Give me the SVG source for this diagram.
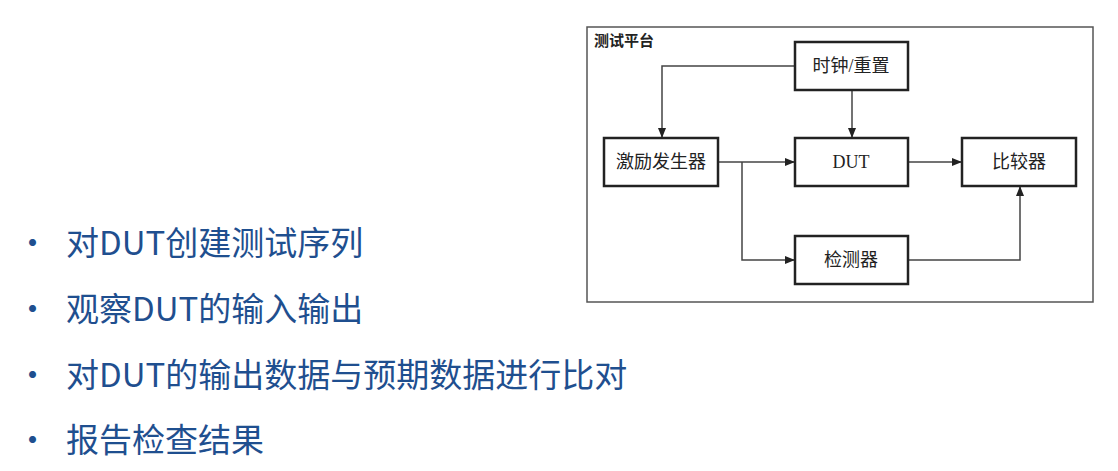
<svg xmlns="http://www.w3.org/2000/svg" width="1118" height="471" viewBox="0 0 1118 471">
<style>
.box{fill:#fff;stroke:#222;stroke-width:2.5}
.lbl{font-family:"Liberation Serif","Noto Sans CJK SC",serif;font-size:18px;fill:#222;text-anchor:middle;dominant-baseline:central}
.c{fill:none;stroke:#444;stroke-width:1.5}
.b{font-family:"Noto Sans CJK SC",sans-serif;font-size:33px;fill:#1f4f8f}
</style>
<defs><marker id="a" markerWidth="10" markerHeight="8" refX="9" refY="4" orient="auto" markerUnits="userSpaceOnUse"><path d="M0,0L10,4L0,8z" fill="#222"/></marker></defs>
<rect width="1118" height="471" fill="#fff"/>
<g id="testbench"><rect x="587" y="27" width="506" height="275" fill="none" stroke="#555" stroke-width="1.5"/>
<text x="594" y="41" class="lbl" style="text-anchor:start;font-size:15px;font-weight:bold">测试平台</text></g>
<g id="connectors">
<path class="c" d="M795,66H662V137" marker-end="url(#a)"/>
<path class="c" d="M852,90V137" marker-end="url(#a)"/>
<path class="c" d="M718,162H794" marker-end="url(#a)"/>
<path class="c" d="M742,162V260H794" marker-end="url(#a)"/>
<path class="c" d="M908,162H961" marker-end="url(#a)"/>
<path class="c" d="M908,260H1020V187" marker-end="url(#a)"/>
</g>
<g id="clk"><rect class="box" x="795" y="42" width="113" height="48"/><text class="lbl" x="851" y="66">时钟/重置</text></g>
<g id="stim"><rect class="box" x="604" y="138" width="114" height="48"/><text class="lbl" x="661" y="162">激励发生器</text></g>
<g id="dut"><rect class="box" x="795" y="138" width="113" height="48"/><text class="lbl" x="851" y="162">DUT</text></g>
<g id="cmp"><rect class="box" x="962" y="138" width="114" height="48"/><text class="lbl" x="1019" y="162">比较器</text></g>
<g id="mon"><rect class="box" x="795" y="236" width="113" height="48"/><text class="lbl" x="851" y="260">检测器</text></g>
<g id="bullets">
<text class="b" x="16" y="255">•</text><text class="b" x="66" y="255">对DUT创建测试序列</text>
<text class="b" x="16" y="321">•</text><text class="b" x="66" y="321">观察DUT的输入输出</text>
<text class="b" x="16" y="387">•</text><text class="b" x="66" y="387">对DUT的输出数据与预期数据进行比对</text>
<text class="b" x="16" y="452">•</text><text class="b" x="66" y="452">报告检查结果</text>
</g>
</svg>
